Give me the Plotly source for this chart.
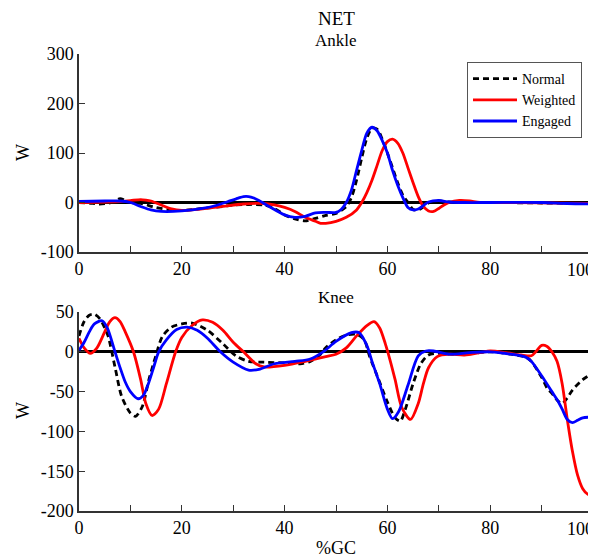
import plotly.graph_objects as go

# ---------------- data ----------------
ankle_normal_x = [0, 2, 4, 6, 7, 8, 9, 10, 12, 15, 18, 20, 24, 28, 30, 33, 36, 38, 40, 42, 44, 46, 48, 50, 52, 53, 54, 55, 56, 57, 58, 59, 60, 61, 62, 63, 64, 65, 66, 67, 68, 70, 72, 75, 80, 90, 100]
ankle_normal_y = [0, -1, -3, -1, 3, 8, 4, 0, -2, -10, -15, -16, -12, -8, -5, -4, -5, -12, -25, -33, -37, -32, -26, -22, -8, 10, 45, 90, 130, 150, 148, 128, 100, 70, 40, 15, 0, -14, -15, -9, -1, 3, 1, 0, 0, -1, -2]

ankle_weighted_x = [0, 8, 10, 12, 13, 14, 16, 18, 20, 24, 28, 32, 36, 38, 40, 42, 44, 46, 47, 48, 50, 52, 54, 55, 56, 57, 58, 59, 60, 61, 62, 63, 64, 65, 66, 67, 68, 69, 70, 71, 72, 74, 76, 78, 85, 100]
ankle_weighted_y = [0, 2, 4, 6, 5, 3, -5, -13, -16, -13, -8, -3, -2, -5, -10, -18, -30, -38, -42, -42, -38, -30, -15, 0, 20, 45, 75, 105, 123, 128, 120, 100, 70, 40, 12, -8, -17, -18, -12, -5, 0, 4, 3, 0, 0, -2]

ankle_engaged_x = [0, 5, 8, 10, 12, 14, 16, 20, 24, 27, 29, 31, 32, 33, 34, 35, 37, 40, 42, 44, 46, 48, 50, 51, 52, 53, 54, 55, 56, 57, 58, 59, 60, 61, 62, 63, 64, 65, 66, 67, 68, 70, 72, 75, 80, 90, 95, 100]
ankle_engaged_y = [2, 3, 3, 0, -8, -15, -18, -17, -12, -5, 2, 9, 12, 12, 9, 4, -8, -25, -30, -28, -21, -20, -20, -14, 0, 25, 65, 105, 140, 152, 145, 125, 100, 65, 35, 10, -10, -15, -13, -6, 1, 4, 1, 0, 0, 0, -2, -3]

knee_normal_x = [0, 1, 2, 3, 4, 5, 5.7, 7, 8.3, 10, 11, 12.3, 13.6, 14.9, 16.2, 18, 20, 22, 25, 28, 30.5, 33, 36, 40, 43, 45, 47, 48, 50, 52, 54, 55.5, 56.5, 58, 60, 61.5, 62.5, 63.5, 65, 66.5, 68, 70, 72, 75, 80, 84, 87, 88, 90, 91.2, 92, 93.2, 94, 95, 96, 98, 100]
knee_normal_y = [20, 38, 46, 47, 42, 30, 19, -19, -56, -77, -81, -69, -35, -6, 19, 31, 35, 36, 27, 10, -5, -12, -13, -14, -15, -12, -3, 5, 15, 21, 22, 15, -5, -30, -63, -83, -87, -72, -40, -15, -4, -2, -3, -3, 0, -3, -7, -12, -32, -47, -52, -62, -65, -58, -48, -35, -27]

knee_weighted_x = [0, 1, 2.2, 3.5, 5, 6, 7, 8, 9, 10.6, 12, 13, 14.2, 15.5, 17, 18.8, 20, 22, 24, 26, 28, 30, 32, 34.4, 36, 40, 44, 48, 50, 52, 54, 56, 57.4, 58.5, 59.6, 60.5, 61.5, 62.8, 64.5, 66, 67, 68, 69.7, 72, 75, 78, 80, 83, 86, 88, 89, 90, 91, 92, 93, 94, 95, 96, 97, 98, 99, 100]
knee_weighted_y = [17, 5, -2, 5, 25, 38, 43, 38, 25, 0, -35, -65, -80, -72, -40, 0, 18, 33, 40, 37, 27, 12, 0, -15, -19, -17, -12, -6, -3, 5, 20, 33, 38, 30, 10, -10, -35, -70, -85, -65, -40, -20, -6, -3, -4, -1, 1, -1, -4, -5, 1, 8, 7, 0, -12, -40, -85, -125, -155, -172, -179, -180]

knee_engaged_x = [0, 1, 2, 3, 4.5, 5.5, 7, 8, 9, 10, 11.5, 12.5, 13.5, 14.5, 15.5, 17, 19, 21, 23, 25, 27.5, 30, 33, 35, 38, 42, 45, 47.5, 50, 53, 54.5, 56, 57, 58.5, 60, 61, 62.2, 64, 66, 67.5, 69, 72, 76, 80, 84, 87, 88, 90, 92, 93, 94, 95, 96, 97, 98, 100]
knee_engaged_y = [2, 12, 25, 35, 39, 30, 0, -20, -38, -50, -59, -55, -40, -20, 0, 15, 28, 31, 27, 17, 0, -13, -23, -22, -15, -12, -9, 0, 13, 24, 24, 8, -12, -40, -72, -84, -75, -42, -5, 1, 1, -3, -1, 0, -3, -7, -12, -30, -50, -60, -72, -85, -89, -86, -83, -82]

x_tick_vals = [0, 10, 20, 30, 40, 50, 60, 70, 80, 90, 100]
x_tick_text = ["0", "", "20", "", "40", "", "60", "", "80", "", ""]
x_last_label = "100"   # drawn right-aligned at the figure edge so it stays visible
ankle_tick_vals = [-100, 0, 100, 200, 300]
ankle_tick_text = ["-100", "0", "100", "200", "300"]
knee_tick_vals = [-200, -150, -100, -50, 0, 50]
knee_tick_text = ["-200", "-150", "-100", "-50", "0", "50"]

series_names = ["Normal", "Weighted", "Engaged"]
series_colors = ["black", "#ff0000", "#0000ff"]
series_dash = ["6px,4px", "solid", "solid"]

FONT = "Liberation Serif, Times New Roman, serif"

# figure geometry (page has an 8px body margin)
W_FIG, H_FIG = 588, 550
L, R, T, B = 71, 3, 46, 47
PLOT_H = H_FIG - T - B
PLOT_W = W_FIG - L - R

def paper_y(fig_px):
    return (H_FIG - B - fig_px) / PLOT_H

def paper_x(fig_px):
    return (fig_px - L) / PLOT_W

fig = go.Figure()

ankle = [(ankle_normal_x, ankle_normal_y), (ankle_weighted_x, ankle_weighted_y), (ankle_engaged_x, ankle_engaged_y)]
knee = [(knee_normal_x, knee_normal_y), (knee_weighted_x, knee_weighted_y), (knee_engaged_x, knee_engaged_y)]

for i, (xs, ys) in enumerate(ankle):
    fig.add_trace(go.Scatter(x=xs, y=ys, mode="lines", name=series_names[i],
                             line=dict(color=series_colors[i], width=2.8, dash=series_dash[i],
                                       shape="spline", smoothing=0.8),
                             xaxis="x", yaxis="y", showlegend=True))
for i, (xs, ys) in enumerate(knee):
    fig.add_trace(go.Scatter(x=xs, y=ys, mode="lines", name=series_names[i],
                             line=dict(color=series_colors[i], width=2.8, dash=series_dash[i],
                                       shape="spline", smoothing=0.8),
                             xaxis="x2", yaxis="y2", showlegend=False))

axis_common = dict(showline=True, linecolor="#333333", linewidth=1.5, ticks="inside",
                   ticklen=6, tickcolor="#333333", tickwidth=1.2, showgrid=False,
                   ticklabeloverflow="allow", automargin=False,
                   tickfont=dict(family=FONT, size=18, color="black"))

fig.update_layout(
    width=W_FIG, height=H_FIG,
    margin=dict(l=L, r=R, t=T, b=B, autoexpand=False),
    paper_bgcolor="white", plot_bgcolor="white",
    font=dict(family=FONT, color="black"),
    xaxis=dict(domain=[0, 1], range=[0, 100], anchor="y", tickvals=x_tick_vals, ticktext=x_tick_text,
               zeroline=False, **axis_common),
    yaxis=dict(domain=[paper_y(244), 1.0], range=[-100, 300], anchor="x", tickvals=ankle_tick_vals,
               ticktext=ankle_tick_text, zeroline=True, zerolinecolor="black", zerolinewidth=2.5,
               **axis_common),
    xaxis2=dict(domain=[0, 1], range=[0, 100], anchor="y2", tickvals=x_tick_vals, ticktext=x_tick_text,
                zeroline=False, **axis_common),
    yaxis2=dict(domain=[0, paper_y(304)], range=[-200, 50], anchor="x2", tickvals=knee_tick_vals,
                ticktext=knee_tick_text, zeroline=True, zerolinecolor="black", zerolinewidth=2.5,
                **axis_common),
    legend=dict(x=paper_x(459), y=paper_y(54), xanchor="left", yanchor="top", bgcolor="white",
                bordercolor="#555555", borderwidth=1, font=dict(family=FONT, size=14),
                itemwidth=44, tracegroupgap=0),
    showlegend=True,
)

annots = [
    dict(text="NET", x=0.5, y=paper_y(10), size=19, angle=0, xa="center"),
    dict(text="Ankle", x=0.5, y=paper_y(33), size=17, angle=0, xa="center"),
    dict(text="Knee", x=0.5, y=paper_y(289), size=17, angle=0, xa="center"),
    dict(text="%GC", x=0.5, y=paper_y(540), size=18, angle=0, xa="center"),
    dict(text="W", x=paper_x(15), y=paper_y(145), size=18, angle=-90, xa="center"),
    dict(text="W", x=paper_x(15), y=paper_y(403), size=18, angle=-90, xa="center"),
    dict(text=x_last_label, x=paper_x(587), y=paper_y(262), size=18, angle=0, xa="right"),
    dict(text=x_last_label, x=paper_x(587), y=paper_y(521), size=18, angle=0, xa="right"),
]
for a in annots:
    fig.add_annotation(text=a["text"], x=a["x"], y=a["y"], xref="paper", yref="paper",
                       xanchor=a["xa"], yanchor="middle", showarrow=False, textangle=a["angle"],
                       borderpad=0, font=dict(family=FONT, size=a["size"], color="black"))

fig.write_html("out.html")
